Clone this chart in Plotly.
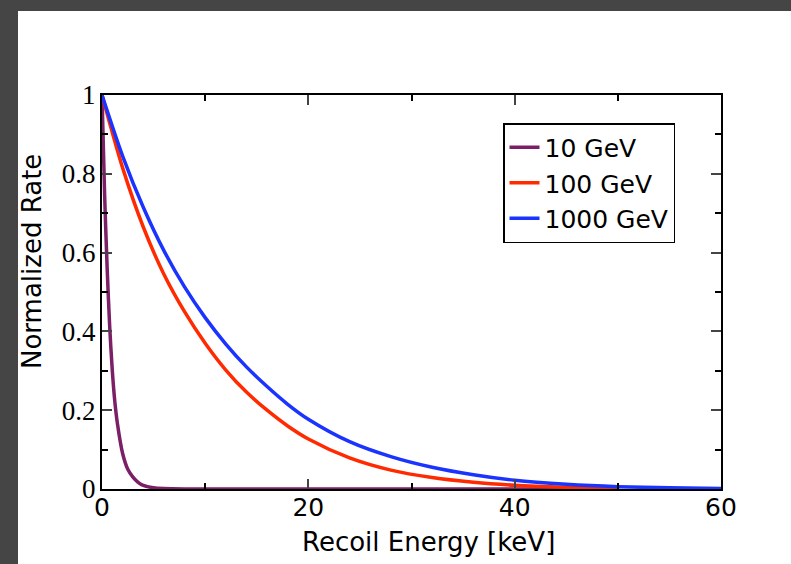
import plotly.graph_objects as go

# Recoil energy sample points (keV) and normalized rates
e_10 = [0, 0.25, 0.5, 0.75, 1.0, 1.25, 1.5, 2.0, 2.5, 3.0, 3.5, 4.0, 5.0, 6.0, 8.0, 20.0, 35.0, 50.0]
r_10 = [1.0, 0.75, 0.56, 0.41, 0.30, 0.22, 0.165, 0.09, 0.05, 0.03, 0.017, 0.009, 0.003, 0.001, 0.0, 0.0, 0.0, 0.0]

e_100 = [0, 2, 4, 6, 8, 10, 12, 14, 16, 18, 20, 24, 28, 32, 36, 40, 45, 50]
r_100 = [1.0, 0.815, 0.665, 0.545, 0.45, 0.37, 0.302, 0.246, 0.2, 0.16, 0.127, 0.079, 0.048, 0.029, 0.017, 0.0095, 0.0045, 0.0015]

e_1000 = [0, 2, 4, 6, 8, 10, 12, 14, 16, 18, 20, 24, 28, 32, 36, 40, 45, 50, 55, 60]
r_1000 = [1.0, 0.845, 0.715, 0.605, 0.513, 0.435, 0.368, 0.31, 0.26, 0.215, 0.177, 0.12, 0.082, 0.055, 0.036, 0.022, 0.012, 0.006, 0.003, 0.0015]

series_names = ["10 GeV", "100 GeV", "1000 GeV"]
series_colors = ["#7b1f66", "#ff2a00", "#1a33ff"]

x_ticks = [0, 20, 40, 60]
y_ticks = [0, 0.2, 0.4, 0.6, 0.8, 1]
y_tick_text = ["0", "0.2", "0.4", "0.6", "0.8", "1"]

fig = go.Figure()
for xs, ys, name, col in zip([e_10, e_100, e_1000], [r_10, r_100, r_1000], series_names, series_colors):
    fig.add_trace(go.Scatter(x=xs, y=ys, mode="lines", name=name,
                             line=dict(color=col, width=3.5, shape="spline", smoothing=0.8)))

L, R, T, B = 102, 70, 95, 75
W, H = 791, 564
pw, ph = W - L - R, H - T - B

def px_x(p):
    return (p - L) / pw

def px_y(p):
    return (H - B - p) / ph

dark = "#454545"
# dark textured border strips (left and top)
fig.add_shape(type="rect", xref="paper", yref="paper",
              x0=px_x(-5), x1=px_x(18), y0=px_y(H + 5), y1=px_y(-5),
              fillcolor=dark, line=dict(width=0), layer="below")
fig.add_shape(type="rect", xref="paper", yref="paper",
              x0=px_x(-5), x1=px_x(W + 5), y0=px_y(11), y1=px_y(-5),
              fillcolor=dark, line=dict(width=0), layer="below")

fig.add_annotation(text="Recoil Energy [keV]", xref="paper", yref="paper",
                   x=px_x(428), y=px_y(542), xanchor="center", yanchor="middle", showarrow=False,
                   font=dict(family="DejaVu Sans", size=26, color="black"))
fig.add_annotation(text="Normalized Rate", xref="paper", yref="paper",
                   x=px_x(32), y=px_y(262), xanchor="center", yanchor="middle",
                   showarrow=False, textangle=-90,
                   font=dict(family="DejaVu Sans", size=26, color="black"))

fig.update_xaxes(range=[0, 60], tickvals=x_ticks, ticks="inside", ticklen=10, tickwidth=1.5,
                 showline=True, linecolor="black", linewidth=2, mirror="ticks",
                 showgrid=False, zeroline=False, ticklabelstandoff=-5,
                 minor=dict(dtick=10, ticks="inside", ticklen=6, tickwidth=1.5, tickcolor="black", showgrid=False),
                 tickfont=dict(family="DejaVu Sans", size=25, color="black"))
fig.update_yaxes(range=[0, 1], tickvals=y_ticks, ticktext=y_tick_text, ticks="inside", ticklen=10, tickwidth=1.5,
                 showline=True, linecolor="black", linewidth=2, mirror="ticks",
                 showgrid=False, zeroline=False, ticklabelstandoff=-1,
                 minor=dict(dtick=0.1, ticks="inside", ticklen=6, tickwidth=1.5, tickcolor="black", showgrid=False),
                 tickfont=dict(family="Liberation Serif", size=27, color="black"))

fig.update_layout(width=W, height=H, margin=dict(l=L, r=R, t=T, b=B),
                  paper_bgcolor="white", plot_bgcolor="white",
                  showlegend=True,
                  legend=dict(x=px_x(503), y=px_y(123), xanchor="left", yanchor="top",
                              bgcolor="white", bordercolor="black", borderwidth=1.5,
                              font=dict(family="DejaVu Sans", size=25, color="black"),
                              tracegroupgap=0, itemwidth=30))

fig.write_html("out.html")
